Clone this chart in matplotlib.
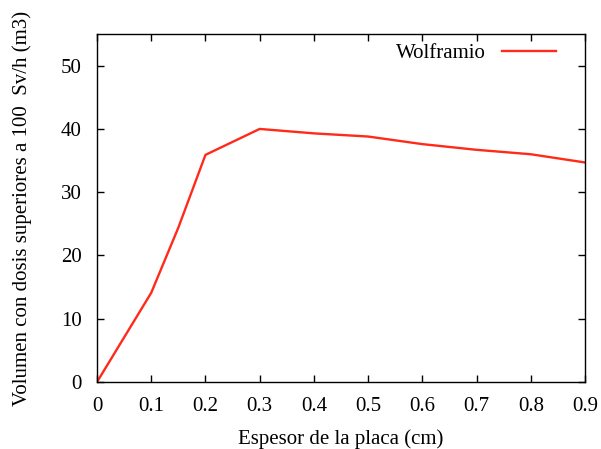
import matplotlib
matplotlib.use("Agg")
import matplotlib.pyplot as plt

plt.rcParams.update({
    "font.family": ["Liberation Serif", "DejaVu Serif"],
    "font.size": 15,
    "xtick.direction": "in",
    "ytick.direction": "in",
    "xtick.top": True,
    "ytick.right": True,
    "axes.linewidth": 1.0,
})

espesor = [0.0, 0.1, 0.15, 0.2, 0.3, 0.4, 0.5, 0.6, 0.7, 0.8, 0.9]
volumen = [0.0, 14.1, 24.4, 35.9, 40.0, 39.3, 38.8, 37.6, 36.7, 36.0, 34.7]

fig = plt.figure(figsize=(6.01, 4.49), dpi=100)
ax = fig.add_axes([0.1614, 0.1492, 0.812, 0.775])

ax.plot(espesor, volumen, color="#ff2a1a", lw=1.7, label="Wolframio")

ax.set_xlim(0, 0.9)
ax.set_ylim(0, 55)
ax.set_xticks([0, 0.1, 0.2, 0.3, 0.4, 0.5, 0.6, 0.7, 0.8, 0.9])
ax.set_xticklabels(["0", "0.1", "0.2", "0.3", "0.4", "0.5", "0.6", "0.7", "0.8", "0.9"])
ax.set_yticks([0, 10, 20, 30, 40, 50])
ax.tick_params(axis="both", length=5, width=1)
ax.tick_params(axis="x", pad=11)
ax.tick_params(axis="y", pad=11)

ax.set_xlabel("Espesor de la placa (cm)", labelpad=9)
ax.set_ylabel("Volumen con dosis superiores a 100  Sv/h (m3)", labelpad=21)

ax.legend(loc="upper right", frameon=False, markerfirst=False,
          handlelength=2.6, handletextpad=0.75, borderaxespad=0.2,
          bbox_to_anchor=(0.966, 1.008), fontsize=15)

fig.savefig("out.png", dpi=100)
